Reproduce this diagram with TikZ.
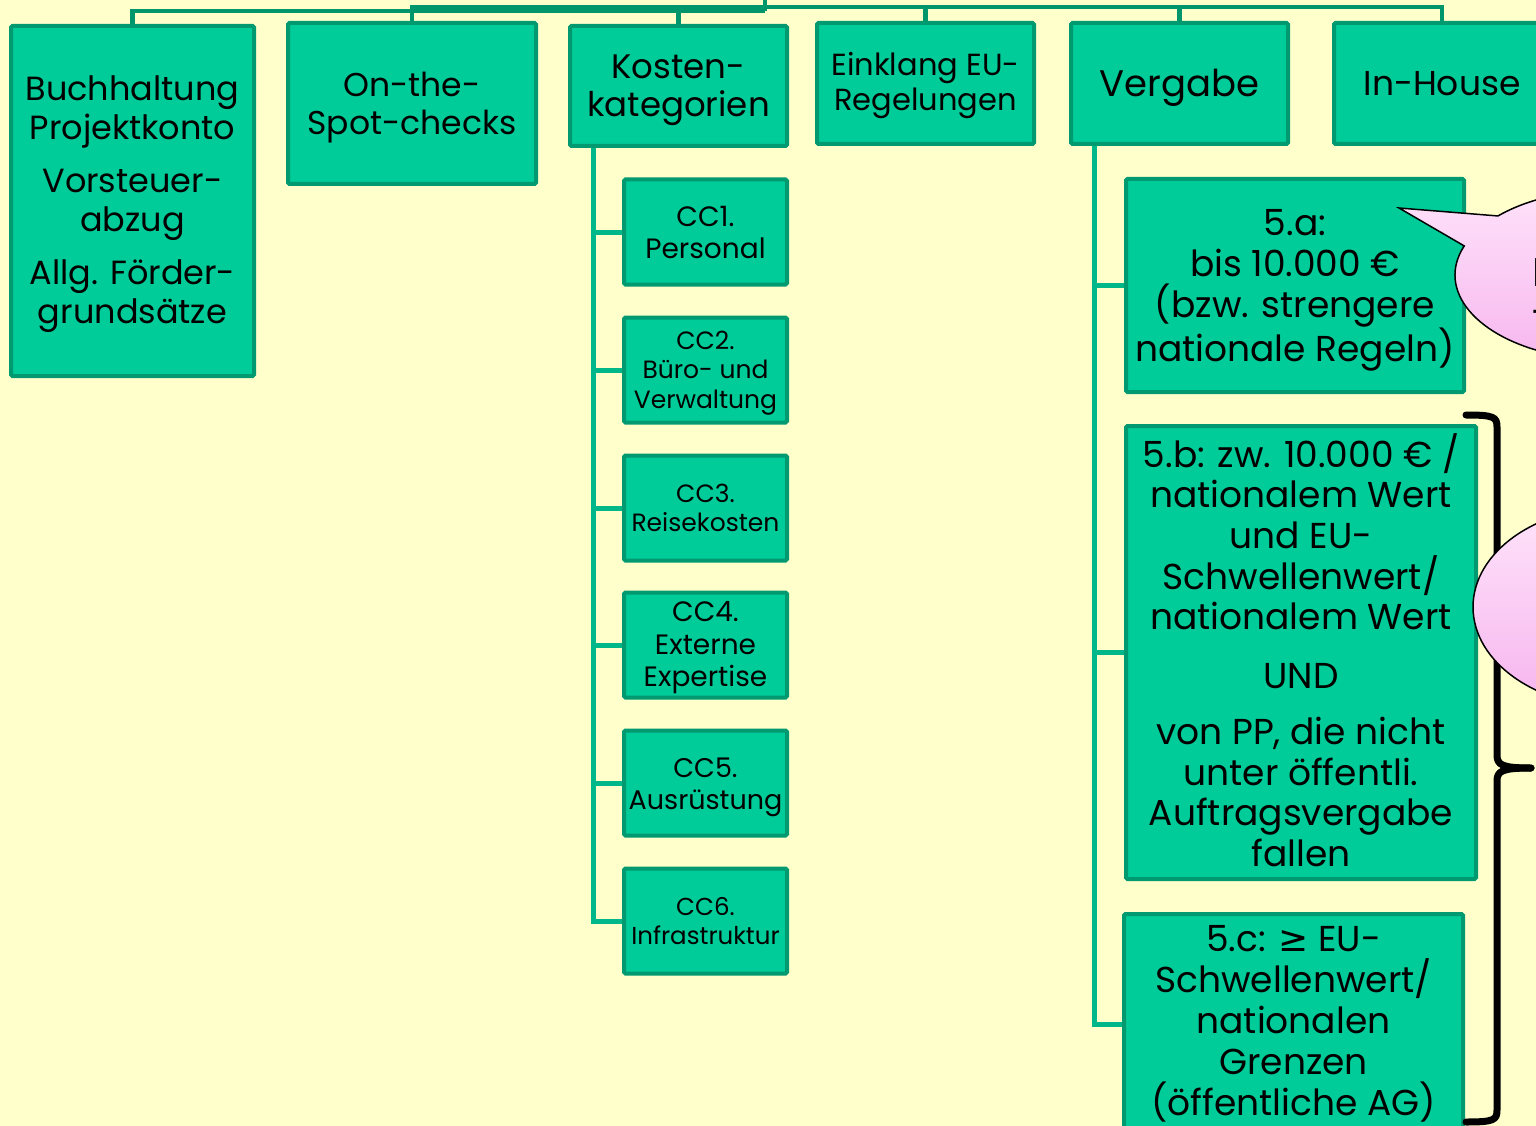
\documentclass[tikz,border=0pt]{standalone}
\usepackage{fontspec}
\setmainfont{Poppins}
\newfontfamily\geqfont{DejaVu Sans}
\usetikzlibrary{calc}
\pgfdeclarelayer{bg}
\pgfdeclarelayer{links}
\pgfsetlayers{bg,links,main}
\definecolor{paper}{RGB}{255,255,204}
\definecolor{boxfill}{RGB}{0,204,153}
\definecolor{boxline}{RGB}{0,153,112}
\definecolor{trunkgreen}{RGB}{0,183,138}
\definecolor{busgreen}{RGB}{0,150,108}
\definecolor{pinktop}{RGB}{255,228,250}
\definecolor{pinkbot}{RGB}{246,180,238}
\newcommand\setfs[2]{\fontsize{#1}{#2}\selectfont}
\tikzset{
  box/.style={draw=boxline, fill=boxfill, line width=4pt, rounded corners=1.5pt,
    inner sep=0pt, outer sep=0pt},
  ccbox/.style={box, minimum width=163, minimum height=105},
  txt/.style={align=center, text=black, inner sep=0pt},
  buslink/.style={draw=busgreen, line width=4.5pt},
  trunklink/.style={draw=trunkgreen, line width=5pt},
  bracket/.style={draw=black, line width=7pt, line cap=round, line join=round},
  bubble/.style={draw=black, line width=1.5pt, top color=pinktop, bottom color=pinkbot},
}
\begin{document}
\begin{tikzpicture}[x=1pt,y=-1pt]
\useasboundingbox (0,0) rectangle (1536,1126);
\clip (0,0) rectangle (1536,1126);
\begin{pgfonlayer}{bg}
  \fill[paper] (0,0) rectangle (1536,1126);
\end{pgfonlayer}

% first level boxes
\node[box, minimum width=243, minimum height=350] (buch) at (132.5,201) {};
\node[box, minimum width=248, minimum height=161] (spot) at (412,103.5) {};
\node[box, minimum width=217, minimum height=120] (kost) at (678.5,86) {};
\node[box, minimum width=217, minimum height=121] (eukl) at (925.5,83.5) {};
\node[box, minimum width=217, minimum height=121] (verg) at (1179.5,83.5) {};
\node[box, minimum width=216, minimum height=121] (inh) at (1442,83.5) {};
\node[txt, font=\setfs{33.5}{39}] (buchT) at ($(buch)+(0,3)$)
  {Buchhaltung\\Projektkonto\\[14pt]Vorsteuer-\\abzug\\[14pt]Allg. Förder-\\grundsätze};
\node[txt, font=\setfs{33}{38}] (spotT) at ($(spot)+(0,4)$) {On-the-\\Spot-checks};
\node[txt, font=\setfs{34}{38}] (kostT) at ($(kost)+(0,4)$) {Kosten-\\kategorien};
\node[txt, font=\setfs{30.5}{35}] (euklT) at ($(eukl)+(0,2.5)$) {Einklang EU-\\Regelungen};
\node[txt, font=\setfs{37}{40}] (vergT) at ($(verg)+(0,4)$) {Vergabe};
\node[txt, font=\setfs{34.5}{40}] (inhT) at ($(inh)+(0,0)$) {In-House};

% cost categories
\node[ccbox] (cc1) at (705.5,232) {};
\node[ccbox] (cc2) at (705.5,370) {};
\node[ccbox] (cc3) at (705.5,508) {};
\node[ccbox] (cc4) at (705.5,645) {};
\node[ccbox] (cc5) at (705.5,783) {};
\node[ccbox] (cc6) at (705.5,921) {};
\node[txt, font=\setfs{28}{32}] (cc1T) at ($(cc1)+(0,1)$) {CC1.\\Personal};
\node[txt, font=\setfs{25}{29.5}] (cc2T) at ($(cc2)+(0,3)$) {CC2.\\Büro- und\\Verwaltung};
\node[txt, font=\setfs{25}{29}] (cc3T) at ($(cc3)+(0,0)$) {CC3.\\Reisekosten};
\node[txt, font=\setfs{28}{32.5}] (cc4T) at ($(cc4)+(0,3)$) {CC4.\\Externe\\Expertise};
\node[txt, font=\setfs{27}{32}] (cc5T) at ($(cc5)+(0,4)$) {CC5.\\Ausrüstung};
\node[txt, font=\setfs{24.5}{29}] (cc6T) at ($(cc6)+(0,0)$) {CC6.\\Infrastruktur};

% procurement thresholds
\node[box, minimum width=338, minimum height=213] (v5a) at (1295,285.5) {};
\node[box, minimum width=350, minimum height=453] (v5b) at (1301,652.5) {};
\node[box, minimum width=339, minimum height=221] (v5c) at (1293.5,1024.5) {};
\node[txt, font=\setfs{36}{41}] (v5aT) at ($(v5a)+(0,5)$)
  {5.a:\\bis 10.000 €\\(bzw. strengere\\nationale Regeln)};
\node[txt, font=\setfs{36}{40.7}] (v5bT) at ($(v5b)+(0,-2.5)$)
  {5.b: zw. 10.000 € /\\nationalem Wert\\und EU-\\Schwellenwert/\\nationalem Wert\\[18pt]UND\\[15pt]von PP, die nicht\\unter öffentli.\\Auftragsvergabe\\fallen};
\node[txt, font=\setfs{36}{41}] (v5cT) at ($(v5c)+(0,-1)$)
  {5.c: {\geqfont ≥} EU-\\Schwellenwert/\\nationalen\\Grenzen\\(öffentliche AG)};

% links
\begin{pgfonlayer}{links}
  \coordinate (parent) at (765,-10);
  \coordinate (hubA) at (765,11);
  \coordinate (hubB) at (765,7);
  \draw[buslink] (parent) -- (hubA);
  \draw[buslink] (buch.north) |- (hubA);
  \draw[buslink] (spot.north) |- (hubB);
  \draw[buslink] (hubB) -| (inh.north);
  \foreach \n in {kost,eukl,verg} \draw[buslink] (\n.north) -- (\n.north |- hubB);
  \coordinate (kt) at (593,146);
  \draw[trunklink] (kt) |- (cc6.west);
  \foreach \n in {cc1,cc2,cc3,cc4,cc5} \draw[trunklink] (\n.west) -- (\n.west -| kt);
  \coordinate (vt) at (1094,144);
  \draw[trunklink] (vt) |- (v5c.west);
  \foreach \n in {v5a,v5b} \draw[trunklink] (\n.west) -- (\n.west -| vt);
\end{pgfonlayer}

% curly bracket beside 5.b and 5.c
\coordinate (brTop) at (1466,415);
\coordinate (brTip) at (1531,768);
\coordinate (brBot) at (1466,1122);
\draw[bracket] (brTop) .. controls (1494,415) and (1497,417) .. (1497,427)
  -- (1497,755) .. controls (1497,765) and (1502,768) .. (brTip);
\draw[bracket] (brTip) .. controls (1502,768) and (1497,771) .. (1497,781)
  -- (1497,1110) .. controls (1497,1120) and (1494,1122) .. (brBot);

% speech bubbles
\coordinate (bubA) at (1608,275);
\coordinate (tipA) at (1399,208);
\path[bubble] ($(bubA)+(-136:153 and 85)$) -- (tipA) -- ($(bubA)+(-160:153 and 85)$)
  arc[start angle=-160, end angle=-496, x radius=153, y radius=85] -- cycle;
\node[anchor=base west, font=\setfs{40}{40}, text=black!55] (fa) at (1533,248) {l};
\node[anchor=base west, font=\setfs{40}{40}] (fb) at (1529,286) {N};
\node[anchor=base west, font=\setfs{40}{40}] (fc) at (1528,326) {-};
\coordinate (bubB) at (1615,607);
\path[bubble] (bubB) ellipse [x radius=142, y radius=100];
\end{tikzpicture}
\end{document}
